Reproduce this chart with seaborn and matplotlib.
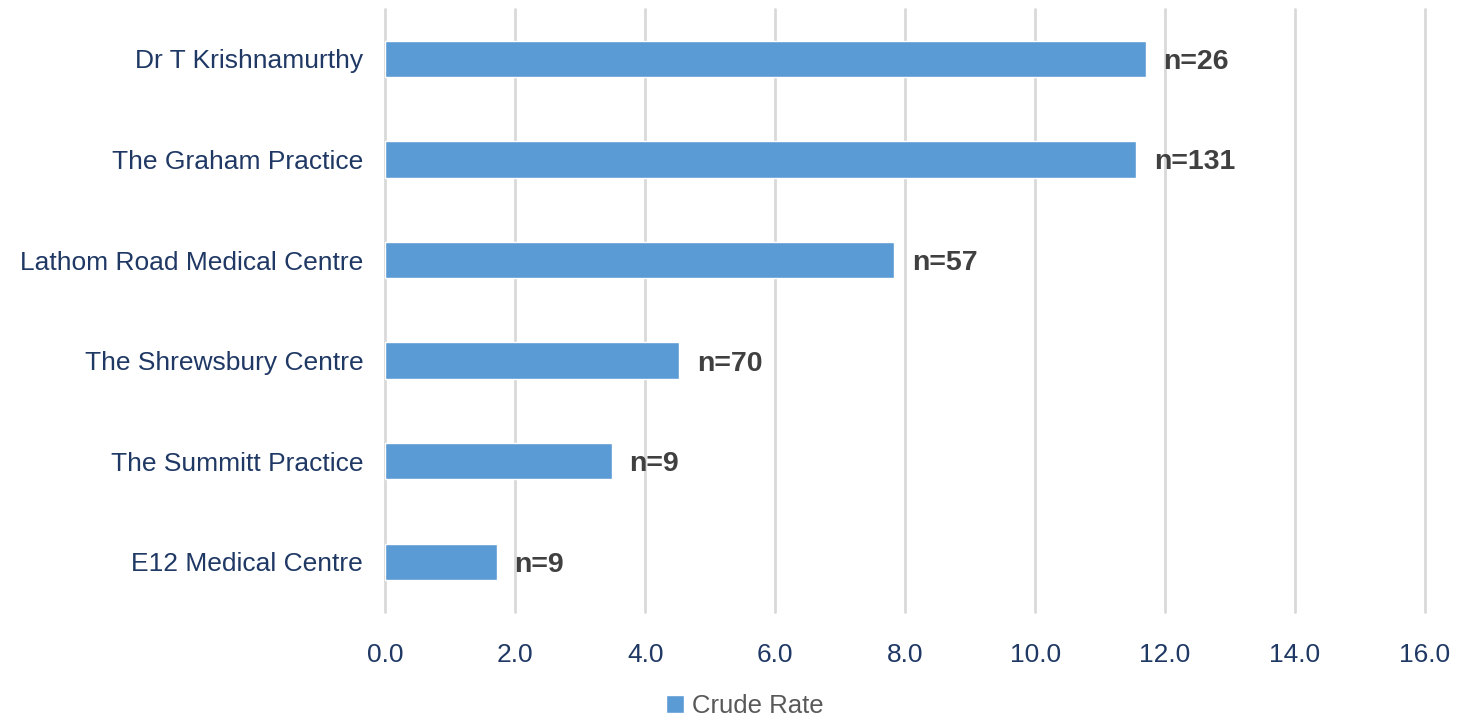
import pandas as pd
import seaborn as sns
import matplotlib
matplotlib.use('Agg')
import matplotlib.pyplot as plt
from matplotlib.patches import Patch

# practices, top to bottom
practices = ['Dr T Krishnamurthy', 'The Graham Practice', 'Lathom Road Medical Centre',
             'The Shrewsbury Centre', 'The Summitt Practice', 'E12 Medical Centre']
crude_rate = [11.7, 11.56, 7.83, 4.52, 3.48, 1.71]
n_labels = ['n=26', 'n=131', 'n=57', 'n=70', 'n=9', 'n=9']
xticks = [0, 2, 4, 6, 8, 10, 12, 14, 16]

df = pd.DataFrame({'Practice': practices, 'Crude Rate': crude_rate})

sns.set_theme(style='white')
plt.rcParams['font.family'] = ['Liberation Sans', 'DejaVu Sans']

bar_col = '#5B9BD5'
navy = '#1F3864'

fig = plt.figure(figsize=(14.6, 7.2), dpi=100)
ax = fig.add_axes([0.264, 0.15, 0.712, 0.838])

sns.barplot(data=df, x='Crude Rate', y='Practice', color=bar_col, width=0.36,
            saturation=1, ax=ax, zorder=3)

for i, (v, lab) in enumerate(zip(crude_rate, n_labels)):
    ax.text(v + 0.27, i + 0.03, lab, va='center', ha='left', fontsize=20.5,
            fontweight='bold', color='#404040')

ax.set_xlim(0, 16)
ax.set_xticks(xticks)
ax.set_xticklabels([f'{t:.1f}' for t in xticks])
ax.tick_params(axis='x', labelsize=19, colors=navy, length=0, pad=22)
ax.tick_params(axis='y', labelsize=19, colors=navy, length=0, pad=16)
ax.xaxis.grid(True, color='#D9D9D9', linewidth=2, zorder=0)
for gl in ax.get_xgridlines():
    gl.set_clip_on(False)
ax.yaxis.grid(False)
ax.set_xlabel('')
ax.set_ylabel('')
for s in ax.spines.values():
    s.set_visible(False)

handles = [Patch(facecolor=bar_col, label='Crude Rate')]
fig.legend(handles=handles, loc='center', bbox_to_anchor=(0.51, 0.02), frameon=False,
           fontsize=18.5, labelcolor='#595959', handlelength=0.7, handleheight=0.7,
           handletextpad=0.3)

fig.savefig('out.png', dpi=100)
